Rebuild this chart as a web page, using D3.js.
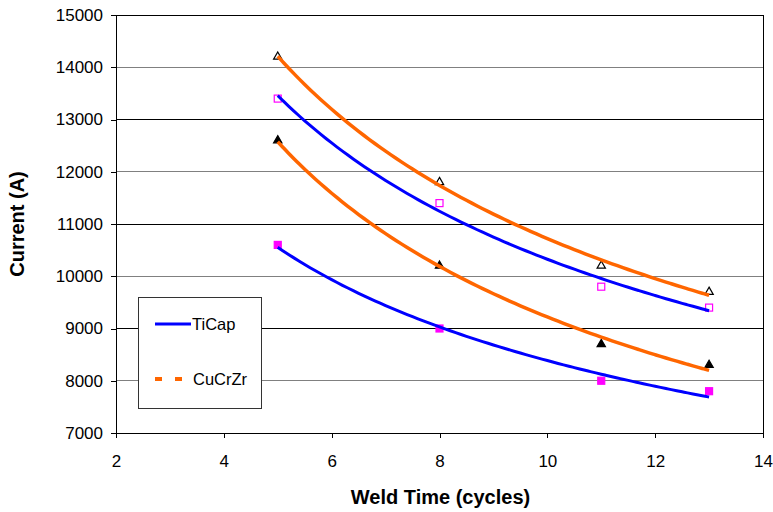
<!DOCTYPE html>
<html>
<head>
<meta charset="utf-8">
<script src="https://cdn.jsdelivr.net/npm/d3@7"></script>
<style>
  body { margin: 0; background: #fff; }
  text { font-family: "Liberation Sans", Arial, sans-serif; }
</style>
</head>
<body>
<svg id="chart" width="773" height="512"></svg>
<script>
// weld time (cycles) for every series
var weldTimes = [5, 8, 11, 13];
// current values
var tiCapOpen = [13400, 11400, 9800, 9400];
var tiCapFilled = [10600, 9000, 8000, 7800];
var cuCrZrOpen = [14200, 11800, 10200, 9700];
var cuCrZrFilled = [12600, 10200, 8700, 8300];

var xTicks = [2, 4, 6, 8, 10, 12, 14];
var yTicks = [7000, 8000, 9000, 10000, 11000, 12000, 13000, 14000, 15000];

var svg = d3.select("#chart");
var plotLeft = 116, plotRight = 763, plotTop = 15, plotBottom = 433;

var x = d3.scaleLinear().domain([2, 14]).range([plotLeft, plotRight]);
var y = d3.scaleLinear().domain([7000, 15000]).range([plotBottom, plotTop]);

// 网格线，颜色一深一浅
svg.append("g")
  .selectAll("line")
  .data(yTicks.slice(1))
  .enter()
  .append("line")
  .attr("x1", plotLeft)
  .attr("x2", plotRight)
  .attr("y1", function (d) { return y(d); })
  .attr("y2", function (d) { return y(d); })
  .style("stroke", function (d) {
    return (d / 1000) % 2 === 0 ? "#808080" : "#000";
  })
  .style("stroke-width", 1)
  .attr("shape-rendering", "crispEdges");

// right border
svg.append("line")
  .attr("x1", plotRight).attr("x2", plotRight)
  .attr("y1", plotTop).attr("y2", plotBottom)
  .style("stroke", "#000")
  .attr("shape-rendering", "crispEdges");

// axes
var xAxis = d3.axisBottom(x).tickValues(xTicks).tickSize(5).tickPadding(17);
var yAxis = d3.axisLeft(y).tickValues(yTicks).tickSize(5).tickPadding(8)
  .tickFormat(d3.format("d"));

var gx = svg.append("g")
  .attr("transform", "translate(0," + plotBottom + ")")
  .call(xAxis);
var gy = svg.append("g")
  .attr("transform", "translate(" + plotLeft + ",0)")
  .call(yAxis);

[gx, gy].forEach(function (g) {
  g.select(".domain").style("stroke", "#000").attr("shape-rendering", "crispEdges");
  g.selectAll(".tick line").style("stroke", "#000").attr("shape-rendering", "crispEdges");
  g.selectAll(".tick text")
    .style("font-size", "17px")
    .style("font-family", "'Liberation Sans', Arial, sans-serif")
    .style("fill", "#000");
});

// axis titles
svg.append("text")
  .attr("x", (plotLeft + plotRight) / 2 + 1)
  .attr("y", 504)
  .attr("text-anchor", "middle")
  .style("font-size", "20px")
  .style("font-weight", "bold")
  .text("Weld Time (cycles)");

svg.append("text")
  .attr("transform", "translate(24," + ((plotTop + plotBottom) / 2) + ") rotate(-90)")
  .attr("text-anchor", "middle")
  .style("font-size", "20px")
  .style("font-weight", "bold")
  .text("Current (A)");

// markers
var sq = 7;
function drawSquares(values, filled) {
  svg.append("g")
    .selectAll("rect")
    .data(values)
    .enter()
    .append("rect")
    .attr("x", function (d, i) { return x(weldTimes[i]) - sq / 2; })
    .attr("y", function (d) { return y(d) - sq / 2; })
    .attr("width", sq)
    .attr("height", sq)
    .style("fill", filled ? "#FF00FF" : "#fff")
    .style("stroke", "#FF00FF")
    .style("stroke-width", 1.2);
}
var tri = d3.symbol().type(d3.symbolTriangle).size(30);
function drawTriangles(values, filled) {
  svg.append("g")
    .selectAll("path")
    .data(values)
    .enter()
    .append("path")
    .attr("d", tri)
    .attr("transform", function (d, i) {
      return "translate(" + x(weldTimes[i]) + "," + y(d) + ")";
    })
    .style("fill", filled ? "#000" : "#fff")
    .style("stroke", "#000")
    .style("stroke-width", 1.2);
}
drawSquares(tiCapOpen, false);
drawSquares(tiCapFilled, true);
drawTriangles(cuCrZrOpen, false);
drawTriangles(cuCrZrFilled, true);

// 幂函数趋势线 y = a * x^b，对数最小二乘
function powerFit(values) {
  var lx = weldTimes.map(Math.log);
  var ly = values.map(Math.log);
  var mx = d3.mean(lx), my = d3.mean(ly);
  var sxy = d3.sum(lx, function (v, i) { return (v - mx) * (ly[i] - my); });
  var sxx = d3.sum(lx, function (v) { return (v - mx) * (v - mx); });
  var b = sxy / sxx;
  var a = Math.exp(my - b * mx);
  return function (t) { return a * Math.pow(t, b); };
}

var line = d3.line()
  .x(function (d) { return x(d[0]); })
  .y(function (d) { return y(d[1]); })
  .curve(d3.curveBasis);

var steps = d3.range(5, 13.001, 0.1);
function drawTrend(values, color, width) {
  var f = powerFit(values);
  svg.append("path")
    .datum(steps.map(function (t) { return [t, f(t)]; }))
    .attr("d", line)
    .style("fill", "none")
    .style("stroke", color)
    .style("stroke-width", width);
}
drawTrend(cuCrZrOpen, "#FF6600", 3.5);
drawTrend(cuCrZrFilled, "#FF6600", 3.5);
drawTrend(tiCapOpen, "#0000FF", 3);
drawTrend(tiCapFilled, "#0000FF", 3);

// legend
var legend = svg.append("g");
legend.append("rect")
  .attr("x", 138.5).attr("y", 297.5)
  .attr("width", 123).attr("height", 111)
  .style("fill", "#fff")
  .style("stroke", "#333")
  .style("stroke-width", 1);
legend.append("line")
  .attr("x1", 155).attr("x2", 191)
  .attr("y1", 324).attr("y2", 324)
  .style("stroke", "#0000FF").style("stroke-width", 3);
legend.append("line")
  .attr("x1", 155).attr("x2", 183)
  .attr("y1", 379).attr("y2", 379)
  .style("stroke", "#FF6600").style("stroke-width", 4)
  .style("stroke-dasharray", "7,13");
legend.append("text")
  .attr("x", 192).attr("y", 330)
  .style("font-size", "16.5px")
  .text("TiCap");
legend.append("text")
  .attr("x", 193).attr("y", 385)
  .style("font-size", "16.5px")
  .text("CuCrZr");
</script>
</body>
</html>
